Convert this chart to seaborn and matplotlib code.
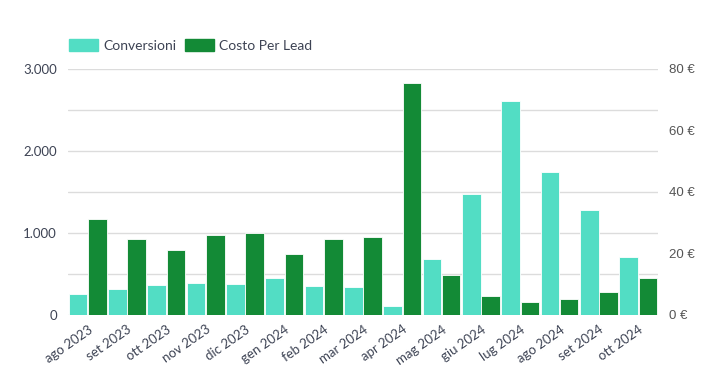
import matplotlib
matplotlib.use('Agg')
import matplotlib.pyplot as plt
import matplotlib.ticker as mticker
from matplotlib.patches import Patch
import pandas as pd
import seaborn as sns

sns.set_theme(style='white')
plt.rcParams['font.family'] = ['Lato', 'DejaVu Sans']

mesi = ['ago 2023', 'set 2023', 'ott 2023', 'nov 2023', 'dic 2023',
        'gen 2024', 'feb 2024', 'mar 2024', 'apr 2024', 'mag 2024',
        'giu 2024', 'lug 2024', 'ago 2024', 'set 2024', 'ott 2024']
conversioni = [252, 313, 366, 386, 374, 451, 350, 341, 110, 683,
               1476, 2610, 1740, 1277, 707]
costo_lead = [31.1, 24.7, 21.0, 26.1, 26.8, 19.9, 24.6, 25.3, 75.4, 13.0,
              6.1, 4.1, 5.1, 7.5, 12.0]

serie = ['Conversioni', 'Costo Per Lead']
colori = ['#52DDC4', '#138A36']
txt = '#3d4354'

df_conv = pd.DataFrame({'mese': mesi, 'valore': conversioni, 'serie': serie[0]})
df_cost = pd.DataFrame({'mese': mesi, 'valore': costo_lead, 'serie': serie[1]})

fig = plt.figure(figsize=(7.19, 3.77), dpi=100)
ax = fig.add_axes([0.0946, 0.1645, 0.8204, 0.6525])
ax2 = ax.twinx()

kw = dict(x='mese', y='valore', hue='serie', hue_order=serie,
          palette=colori, saturation=1, order=mesi, dodge=True,
          width=0.98, gap=0.04, edgecolor='white', linewidth=0.6,
          legend=False)
sns.barplot(data=df_conv, ax=ax, **kw)
sns.barplot(data=df_cost, ax=ax2, **kw)

ax.set_xlim(-0.5, len(mesi) - 0.5)
ax.set_ylim(0, 3000)
ax2.set_ylim(0, 80)
ax.set_xlabel('')
ax.set_ylabel('')
ax2.set_ylabel('')

ax.yaxis.set_major_locator(mticker.MultipleLocator(500))
ax.yaxis.set_major_formatter(mticker.FuncFormatter(
    lambda v, p: '' if v % 1000 else f'{int(v):,}'.replace(',', '.')))
ax2.yaxis.set_major_locator(mticker.MultipleLocator(20))
ax2.yaxis.set_major_formatter(mticker.FuncFormatter(lambda v, p: f'{int(v)} €'))

ax.grid(axis='y', color='#dcdcdc', linewidth=1)
ax.set_axisbelow(True)
for a in (ax, ax2):
    for s in a.spines.values():
        s.set_visible(False)

ax.tick_params(axis='y', length=0, pad=8, labelsize=9.5, labelcolor=txt)
ax.tick_params(axis='x', length=0, pad=6, labelsize=9.5, labelcolor=txt)
plt.setp(ax.get_xticklabels(), rotation=35, ha='right', rotation_mode='anchor')
ax2.tick_params(axis='y', length=0, pad=8, labelsize=9.5, labelcolor='#555555')
for lab in ax2.get_yticklabels():
    lab.set_family(['Liberation Sans', 'DejaVu Sans'])

handles = [Patch(facecolor=c, edgecolor=c, label=s) for s, c in zip(serie, colori)]
fig.legend(handles=handles, loc='lower left', bbox_to_anchor=(0.078, 0.83),
           ncol=2, frameon=False, fontsize=10, labelcolor=txt,
           handlelength=2.1, handleheight=1.0, handletextpad=0.4,
           columnspacing=0.6)

fig.savefig('out.png', dpi=100)
